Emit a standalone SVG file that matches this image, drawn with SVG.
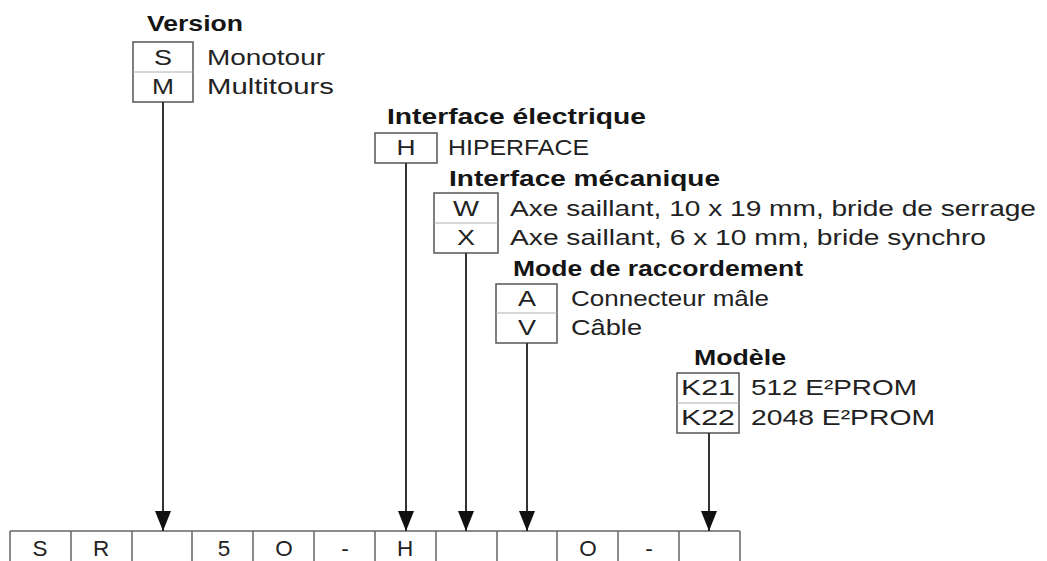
<svg xmlns="http://www.w3.org/2000/svg" width="1047" height="561" viewBox="0 0 1047 561">
<style>
text{font-family:"Liberation Sans",Arial,sans-serif;font-size:22.5px;fill:#222}
.h{font-weight:bold;fill:#151515}
.c{text-anchor:middle}
.box{fill:#fff;stroke:#555;stroke-width:1.5}
.div{stroke:#b0b0b0;stroke-width:1.2}
.conn{stroke:#333;stroke-width:2;fill:none}
.tbl{stroke:#666;stroke-width:1.5;fill:none}
</style>
<defs>
<marker id="ah" markerUnits="userSpaceOnUse" markerWidth="22" markerHeight="18" refX="20" refY="9" orient="auto">
<path d="M0,1 L20,9 L0,17 z" fill="#111"/>
</marker>
</defs>

<g id="version">
<text class="h" x="147" y="31" textLength="96" lengthAdjust="spacingAndGlyphs">Version</text>
<rect class="box" x="133" y="42" width="60" height="60"/>
<line class="div" x1="133" y1="72" x2="193" y2="72"/>
<text class="c" x="163" y="65" textLength="18" lengthAdjust="spacingAndGlyphs">S</text>
<text class="c" x="163" y="94" textLength="22" lengthAdjust="spacingAndGlyphs">M</text>
<text x="207" y="65" textLength="118" lengthAdjust="spacingAndGlyphs">Monotour</text>
<text x="207" y="94" textLength="127" lengthAdjust="spacingAndGlyphs">Multitours</text>
</g>

<g id="interface-electrique">
<text class="h" x="387" y="124" textLength="259" lengthAdjust="spacingAndGlyphs">Interface électrique</text>
<rect class="box" x="375" y="133" width="62" height="30"/>
<text class="c" x="406" y="155" textLength="19" lengthAdjust="spacingAndGlyphs">H</text>
<text x="448" y="155" textLength="141" lengthAdjust="spacingAndGlyphs">HIPERFACE</text>
</g>

<g id="interface-mecanique">
<text class="h" x="449" y="186" textLength="271" lengthAdjust="spacingAndGlyphs">Interface mécanique</text>
<rect class="box" x="434" y="193" width="64" height="60"/>
<line class="div" x1="434" y1="223" x2="498" y2="223"/>
<text class="c" x="466" y="216" textLength="26" lengthAdjust="spacingAndGlyphs">W</text>
<text class="c" x="466" y="245" textLength="18" lengthAdjust="spacingAndGlyphs">X</text>
<text x="510" y="216" textLength="526" lengthAdjust="spacingAndGlyphs">Axe saillant, 10 x 19 mm, bride de serrage</text>
<text x="510" y="245" textLength="476" lengthAdjust="spacingAndGlyphs">Axe saillant, 6 x 10 mm, bride synchro</text>
</g>

<g id="mode-raccordement">
<text class="h" x="513" y="276" textLength="290" lengthAdjust="spacingAndGlyphs">Mode de raccordement</text>
<rect class="box" x="496" y="284" width="61" height="59"/>
<line class="div" x1="496" y1="313" x2="557" y2="313"/>
<text class="c" x="527" y="306" textLength="18" lengthAdjust="spacingAndGlyphs">A</text>
<text class="c" x="527" y="335" textLength="18" lengthAdjust="spacingAndGlyphs">V</text>
<text x="571" y="306" textLength="198" lengthAdjust="spacingAndGlyphs">Connecteur mâle</text>
<text x="571" y="335" textLength="71" lengthAdjust="spacingAndGlyphs">Câble</text>
</g>

<g id="modele">
<text class="h" x="694" y="365" textLength="92" lengthAdjust="spacingAndGlyphs">Modèle</text>
<rect class="box" x="677" y="373" width="62" height="60"/>
<line class="div" x1="677" y1="403" x2="739" y2="403"/>
<text class="c" x="708" y="395" textLength="54" lengthAdjust="spacingAndGlyphs">K21</text>
<text class="c" x="708" y="425" textLength="54" lengthAdjust="spacingAndGlyphs">K22</text>
<text x="751" y="395" textLength="166" lengthAdjust="spacingAndGlyphs">512 E²PROM</text>
<text x="751" y="425" textLength="184" lengthAdjust="spacingAndGlyphs">2048 E²PROM</text>
</g>

<g id="type-code">
<path class="tbl" d="M10,531 H740 M10,531 V561 M71,531 V561 M132,531 V561 M192,531 V561 M253,531 V561 M314,531 V561 M375,531 V561 M436,531 V561 M497,531 V561 M557,531 V561 M618,531 V561 M679,531 V561 M740,531 V561"/>
<text class="c" x="40" y="556">S</text>
<text class="c" x="101" y="556">R</text>
<text class="c" x="224" y="556">5</text>
<text class="c" x="284" y="556">O</text>
<text class="c" x="345" y="556">-</text>
<text class="c" x="405" y="556">H</text>
<text class="c" x="588" y="556">O</text>
<text class="c" x="649" y="556">-</text>
</g>

<g id="connectors">
<line class="conn" x1="163" y1="102" x2="163" y2="531" marker-end="url(#ah)"/>
<line class="conn" x1="406" y1="163" x2="406" y2="531" marker-end="url(#ah)"/>
<line class="conn" x1="466" y1="253" x2="466" y2="531" marker-end="url(#ah)"/>
<line class="conn" x1="527" y1="343" x2="527" y2="531" marker-end="url(#ah)"/>
<line class="conn" x1="709" y1="433" x2="709" y2="531" marker-end="url(#ah)"/>
</g>
</svg>
